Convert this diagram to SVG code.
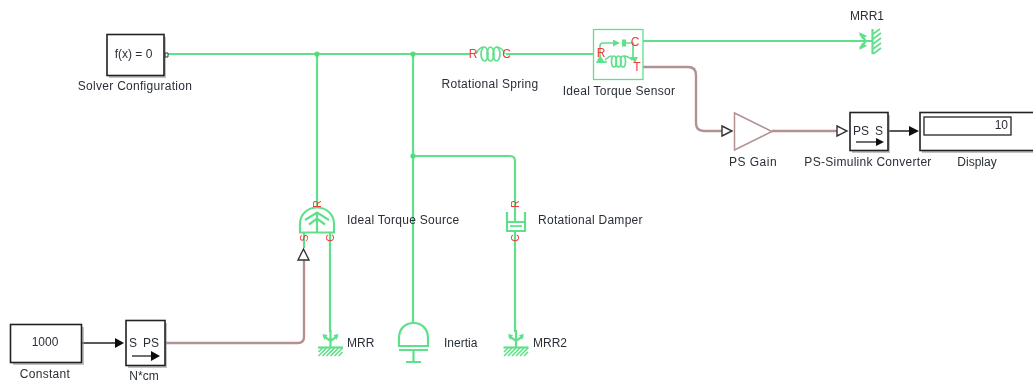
<svg xmlns="http://www.w3.org/2000/svg" width="1033" height="381" viewBox="0 0 1033 381">
<style>
text{font-family:"Liberation Sans",Arial,sans-serif;font-size:12px;fill:#2a2f38}
.m{text-anchor:middle}
.w{letter-spacing:.28px}
.r{fill:#f03838;font-size:12px;text-anchor:middle}
.rs{fill:#f03838;font-size:10.500px;text-anchor:middle}
.b{fill:#fff;stroke:#222;stroke-width:1.6}
.s{fill:#9a9a9a;opacity:.6}
.g{fill:none;stroke:#5fe08a;stroke-width:2.200}
.gt{fill:none;stroke:#5fe08a;stroke-width:1.700}
.p{fill:none;stroke:#b39092;stroke-width:2.400}
.k{fill:none;stroke:#222;stroke-width:1.3}
.o{fill:#fff;stroke:#333;stroke-width:1.4}
.h{stroke:#5fe08a;stroke-width:1.600}
</style>
<defs>
<filter id="soft" x="-2%" y="-2%" width="104%" height="104%"><feGaussianBlur stdDeviation="0.35"/></filter>
<g id="ground">
<path class="g" d="M0 0V17M-7 6L0 11L7 6"/>
<path d="M-8 4L-3 5L-6 10ZM8 4L3 5L6 10Z" fill="#5fe08a"/>
<path class="g" d="M-12.500 17.500H12.500"/>
<path class="h" d="M-12 22L-8 18M-12 26L-4 18M-8 26L0 18M-4 26L4 18M0 26L8 18M4 26L12 18M8 26L12 22"/>
</g>
</defs>
<g filter="url(#soft)">
<g id="connectors">
<path class="g" d="M168 54H470M506 54H594M317 54V208M413 54V322M413 156H510Q515 156 515 161V222M330 232V332M515 231V332M643 41H860M304 232V248"/>
<circle cx="317" cy="54" r="2.600" fill="#4fdc7c"/>
<circle cx="413" cy="54" r="2.600" fill="#4fdc7c"/>
<circle cx="413" cy="156" r="2.600" fill="#4fdc7c"/>
<path class="p" d="M643 67H688Q696 67 696 75V123Q696 131 704 131H722M772 131H837M165 343H298Q304 343 304 337V260"/>
<path class="k" d="M81 343H116M888 131H910"/>
<path d="M115 338L124 343L115 348ZM909 126L919 131L909 136Z" fill="#111"/>
<path class="o" d="M722 126L732 131L722 136ZM837 126L847 131L837 136ZM298 260L303.500 249L309 260Z"/>
</g>
<g id="solver">
<rect class="s" x="109" y="37" width="57" height="41"/>
<rect class="b" x="107" y="34.500" width="57" height="41"/>
<text class="m" x="133.500" y="58">f(x) = 0</text>
<path d="M165 53h3v4h-3z" fill="none" stroke="#333"/>
<text class="m w" x="135" y="90">Solver Configuration</text>
</g>
<g id="spring">
<path class="gt" d="M476 54Q479 47 484 47M496 47Q502 47 505 54"/>
<ellipse class="gt" cx="484.500" cy="54" rx="3.500" ry="7"/>
<ellipse class="gt" cx="490.500" cy="54" rx="3.500" ry="7"/>
<ellipse class="gt" cx="496.500" cy="54" rx="3.500" ry="7"/>
<text class="r" x="473" y="58">R</text>
<text class="r" x="506.500" y="58">C</text>
<text class="m w" x="490" y="88">Rotational Spring</text>
</g>
<g id="sensor">
<rect x="593.500" y="29.500" width="49.500" height="50" fill="#fff" stroke="#5fe08a" stroke-width="1.300"/>
<path class="gt" d="M600 62V46Q600 43 603 43H614M626 43H633V60M600 62H607"/>
<path d="M613 39.500L620 43L613 46.500ZM622 39.500h4v7h-4zM596 63L600 55L605 63ZM630 57L638 57L635 63Z" fill="#5fe08a"/>
<path class="gt" d="M605 60Q609 56 612 56M624 56Q628 56 632 60"/>
<ellipse class="gt" cx="614" cy="61.500" rx="2.500" ry="5.500"/>
<ellipse class="gt" cx="618.500" cy="61.500" rx="2.500" ry="5.500"/>
<ellipse class="gt" cx="623" cy="61.500" rx="2.500" ry="5.500"/>
<text class="r" x="601" y="57">R</text>
<text class="r" x="635" y="46">C</text>
<text class="r" x="637" y="71">T</text>
<text class="m w" x="619" y="95">Ideal Torque Sensor</text>
</g>
<g id="mrr1">
<path class="g" d="M860 41H873M860 34L866 41L860 48"/>
<path d="M859 32L867 36L862 39ZM859 50L867 46L862 43Z" fill="#5fe08a"/>
<path class="g" d="M872.500 29V54"/>
<path class="h" d="M873 34L880 29M873 39L881 33M873 44L881 38M873 49L881 43M873 54L881 48"/>
<text class="m" x="867" y="20">MRR1</text>
</g>
<g id="gain">
<path d="M734.500 113L772 131.500L734.500 150Z" fill="#fff" stroke="#b39092" stroke-width="1.500"/>
<text class="m w" x="753" y="166" style="letter-spacing:.5px">PS Gain</text>
</g>
<g id="ps-simulink">
<rect class="s" x="852" y="115" width="38" height="38"/>
<rect class="b" x="850" y="112.500" width="38" height="38"/>
<text x="853" y="135">PS</text>
<text x="875" y="135">S</text>
<path class="k" d="M856 142H878"/>
<path d="M876 138L884 142L876 146Z" fill="#111"/>
<text class="m w" x="868" y="166">PS-Simulink Converter</text>
</g>
<g id="display">
<rect class="s" x="922" y="115" width="113" height="38"/>
<rect class="b" x="920" y="112.500" width="115" height="38"/>
<rect x="924" y="117" width="87" height="18" fill="#fff" stroke="#222" stroke-width="1.300"/>
<text x="1008" y="129" text-anchor="end">10</text>
<text class="m" x="977" y="166">Display</text>
</g>
<g id="torque-source">
<path class="g" d="M300 232.500V224C300 214 308 207.500 317 207.500C326 207.500 334 214 334 224V232.500H300Z"/>
<path class="g" d="M305 220L317 212.500L329 220M309 224.500L317 218.500L325 224.500M317 213V232"/>
<text class="rs" transform="translate(320.500 204) rotate(-90)">R</text>
<text class="rs" transform="translate(307.500 238) rotate(-90)">S</text>
<text class="rs" transform="translate(333.500 238) rotate(-90)">C</text>
<text class="w" x="347" y="224">Ideal Torque Source</text>
</g>
<g id="damper">
<path class="g" d="M507 212V231H525V212M507 222H525"/>
<path class="gt" d="M510 226H522"/>
<text class="rs" transform="translate(518.500 204) rotate(-90)">R</text>
<text class="rs" transform="translate(518.500 238) rotate(-90)">C</text>
<text class="w" x="538" y="224">Rotational Damper</text>
</g>
<g id="mrr"><use href="#ground" x="330.500" y="330"/><text x="347" y="347">MRR</text></g>
<g id="mrr2"><use href="#ground" x="516" y="330"/><text x="533" y="347">MRR2</text></g>
<g id="inertia">
<path class="g" d="M399 346V338C399 329 405 323 413.500 323C422 323 428 329 428 338V346H399Z"/>
<path class="g" d="M399 350H428M413.500 350V362M406 362H421"/>
<text x="444" y="347">Inertia</text>
</g>
<g id="constant">
<rect class="s" x="13" y="327" width="71" height="38"/>
<rect class="b" x="10.500" y="324.500" width="71" height="38"/>
<text class="m" x="45" y="346">1000</text>
<text class="m w" x="45" y="378">Constant</text>
</g>
<g id="converter">
<rect class="s" x="128" y="323" width="39" height="45"/>
<rect class="b" x="126" y="320.500" width="39" height="45"/>
<text x="129" y="347">S</text>
<text x="143" y="347">PS</text>
<path class="k" d="M132 356H154"/>
<path d="M151 351L160 356L151 361Z" fill="#111"/>
<text class="m" x="144" y="380">N*cm</text>
</g>
</g>
</svg>
